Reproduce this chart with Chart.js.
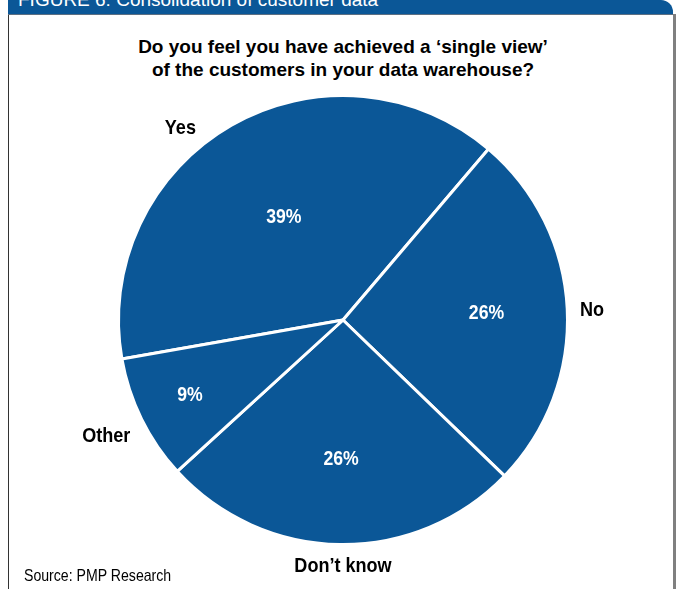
<!DOCTYPE html>
<html>
<head>
<meta charset="utf-8">
<script src="https://cdn.jsdelivr.net/npm/chart.js@4.4.0/dist/chart.umd.min.js"></script>
<style>
  body { margin: 0; background: #fff; }
  #wrap { position: relative; width: 679px; height: 589px; overflow: hidden; font-family: "Liberation Sans", Arial, sans-serif; }
  #header { position: absolute; left: 8px; top: 0; width: 665px; height: 14px; background: #0b5797; border-bottom: 1px solid #5d6f82; border-top-right-radius: 12px; overflow: hidden; }
  #header span { position: absolute; left: 10px; top: -11px; color: #fff; font-size: 19px; white-space: nowrap; }
  #leftBorder { position: absolute; left: 8px; top: 15px; width: 1px; height: 574px; background: #333; }
  #rightBorder { position: absolute; left: 673px; top: 14px; width: 3px; height: 575px; background: #808080; }
  #title { position: absolute; left: 0; width: 686px; top: 35px; text-align: center; font-weight: bold; font-size: 19px; line-height: 23px; color: #000; }
  #source { position: absolute; left: 24px; top: 566px; font-size: 17px; color: #000; transform: scaleX(0.83); transform-origin: 0 0; white-space: nowrap; }
  canvas { position: absolute; left: 0; top: 0; }
</style>
</head>
<body>
<div id="wrap">
  <div id="header"><span>FIGURE 6: Consolidation of customer data</span></div>
  <div id="leftBorder"></div>
  <div id="rightBorder"></div>
  <div id="title">Do you feel you have achieved a ‘single view’<br>of the customers in your data warehouse?</div>
  <canvas id="grafico" width="679" height="589"></canvas>
  <div id="source">Source: PMP Research</div>
</div>
<script>
const categorias = ['Yes', 'No', 'Don’t know', 'Other'];
const valores = [39, 26, 26, 9];

// onde ficam os rótulos (fração do raio, ajuste de ângulo em graus)
const raioInterno = [0.53, 0.64, 0.62, 0.76];
const raioExterno = [1.12, 1.11, 1.095, 1.175];
const ajusteAngulo = [-10.5, 0.5, -0.8, 0];

// texto "condensado": fonte normal achatada na horizontal
function textoEstreito(ctx, txt, x, y, escala) {
    ctx.save();
    ctx.translate(x, y);
    ctx.scale(escala, 1);
    ctx.fillText(txt, 0, 0);
    ctx.restore();
}

const rotulos = {
    id: 'rotulos',
    afterDatasetsDraw(chart) {
        const ctx = chart.ctx;
        const arcs = chart.getDatasetMeta(0).data;
        ctx.save();
        ctx.textAlign = 'center';
        ctx.textBaseline = 'middle';
        arcs.forEach((arc, i) => {
            const p = arc.getProps(['x', 'y', 'startAngle', 'endAngle', 'outerRadius'], true);
            const meio = (p.startAngle + p.endAngle) / 2;
            // porcentagem dentro da fatia
            ctx.fillStyle = '#ffffff';
            ctx.font = 'bold 21px "Liberation Sans", Arial, sans-serif';
            const ri = p.outerRadius * raioInterno[i];
            textoEstreito(ctx, valores[i] + '%', p.x + Math.cos(meio) * ri, p.y + Math.sin(meio) * ri, 0.84);
            // nome da categoria fora
            ctx.fillStyle = '#000000';
            ctx.font = 'bold 21px "Liberation Sans", Arial, sans-serif';
            const a = meio + ajusteAngulo[i] * Math.PI / 180;
            const re = p.outerRadius * raioExterno[i];
            textoEstreito(ctx, categorias[i], p.x + Math.cos(a) * re, p.y + Math.sin(a) * re, 0.86);
        });
        ctx.restore();
    }
};

new Chart(document.getElementById('grafico').getContext('2d'), {
    type: 'pie',
    data: {
        labels: categorias,
        datasets: [{
            data: valores,
            backgroundColor: '#0b5797',
            borderColor: '#ffffff',
            borderWidth: 3,
        }]
    },
    options: {
        responsive: false,
        animation: false,
        rotation: -100,
        layout: { padding: { top: 94, bottom: 43, left: 100, right: 93 } },
        plugins: {
            legend: { display: false },
            tooltip: { enabled: false }
        }
    },
    plugins: [rotulos]
});
</script>
</body>
</html>
